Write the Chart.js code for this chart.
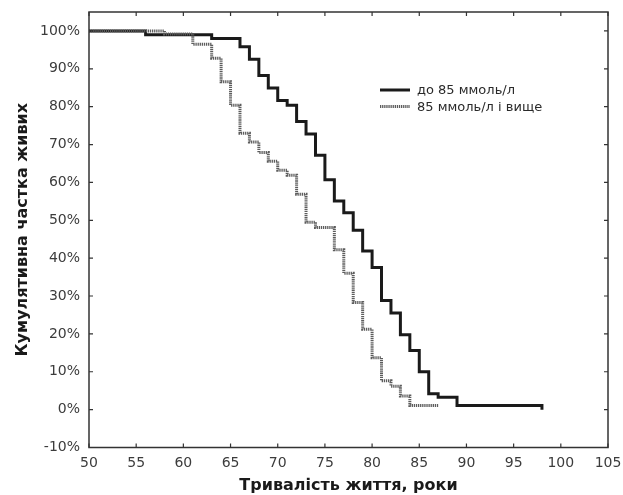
<!DOCTYPE html>
<html>
<head>
<meta charset="utf-8">
<script src="https://cdn.jsdelivr.net/npm/chart.js@4.4.0/dist/chart.umd.min.js"></script>
<style>
  html, body { margin: 0; padding: 0; background: #fff; }
  #chart { display: block; }
</style>
</head>
<body>
<canvas id="chart" width="623" height="495"></canvas>
<script>
// valores (idade em anos, % de vivos)
const lowAges = [50, 56, 63, 66, 67, 68, 69, 70, 71, 72, 73, 74, 75, 76, 77, 78, 79, 80, 81, 82, 83, 84, 85, 86, 87, 89, 98];
const lowSurv = [100, 99, 98, 95.8, 92.5, 88.2, 84.9, 81.6, 80.4, 76.1, 72.8, 67.2, 60.7, 55.1, 52, 47.4, 41.9, 37.5, 28.8, 25.5, 19.8, 15.6, 10, 4.2, 3.3, 1.1, 0];

const highAges = [50, 58, 61, 63, 64, 65, 66, 67, 68, 69, 70, 71, 72, 73, 74, 76, 77, 78, 79, 80, 81, 82, 83, 84, 87];
const highSurv = [100, 99.2, 96.5, 92.8, 86.6, 80.4, 73, 70.7, 67.9, 65.6, 63.2, 61.9, 56.9, 49.5, 48.1, 42.2, 36, 28.3, 21.2, 13.7, 7.6, 6.2, 3.6, 1.1, 1.1];

const seriesNames = ['до 85 ммоль/л', '85 ммоль/л і вище'];
const xTicks = [50, 55, 60, 65, 70, 75, 80, 85, 90, 95, 100, 105];
const yTicks = [-10, 0, 10, 20, 30, 40, 50, 60, 70, 80, 90, 100];

const FONT = '"DejaVu Sans", Arial, sans-serif';
const lowColor = '#1a1a1a';
const highColor = '#5c5c5c';

function toPoints(xs, ys) {
    return xs.map((x, i) => ({ x: x, y: ys[i] }));
}

// moldura com marcas para dentro nos quatro lados
const framePlugin = {
    id: 'frame',
    afterDraw(chart) {
        const ctx = chart.ctx;
        const a = chart.chartArea;
        const xs = chart.scales.x;
        const ys = chart.scales.y;
        const len = 4;
        ctx.save();
        ctx.strokeStyle = '#333';
        ctx.lineWidth = 1.5;
        ctx.strokeRect(a.left, a.top, a.right - a.left, a.bottom - a.top);
        ctx.lineWidth = 1.2;
        ctx.beginPath();
        xTicks.forEach(v => {
            const px = xs.getPixelForValue(v);
            ctx.moveTo(px, a.bottom); ctx.lineTo(px, a.bottom - len);
            ctx.moveTo(px, a.top); ctx.lineTo(px, a.top + len);
        });
        yTicks.forEach(v => {
            const py = ys.getPixelForValue(v);
            ctx.moveTo(a.left, py); ctx.lineTo(a.left + len, py);
            ctx.moveTo(a.right, py); ctx.lineTo(a.right - len, py);
        });
        ctx.stroke();
        ctx.restore();
    }
};

// legenda dentro da área do gráfico
const legendPlugin = {
    id: 'innerLegend',
    afterDatasetsDraw(chart) {
        const ctx = chart.ctx;
        const a = chart.chartArea;
        const x0 = a.left + 291;
        const y0 = a.top + 78;
        const rowH = 16.5;
        ctx.save();
        ctx.font = '13px ' + FONT;
        ctx.textBaseline = 'middle';
        ctx.fillStyle = '#2a2a2a';
        chart.data.datasets.forEach((ds, i) => {
            const y = y0 + i * rowH;
            ctx.strokeStyle = ds.borderColor;
            ctx.lineWidth = ds.borderWidth;
            ctx.setLineDash(ds.borderDash || []);
            ctx.beginPath();
            ctx.moveTo(x0, y);
            ctx.lineTo(x0 + 30, y);
            ctx.stroke();
            ctx.setLineDash([]);
            ctx.fillText(ds.label, x0 + 37, y + 1);
        });
        ctx.restore();
    }
};

new Chart(document.getElementById('chart'), {
    type: 'line',
    data: {
        datasets: [
            {
                label: seriesNames[0],
                data: toPoints(lowAges, lowSurv),
                borderColor: lowColor,
                borderWidth: 3,
                stepped: true,
                pointRadius: 0,
                fill: false,
                order: 2
            },
            {
                label: seriesNames[1],
                data: toPoints(highAges, highSurv),
                borderColor: highColor,
                borderWidth: 3,
                borderDash: [1.3, 0.8],
                stepped: true,
                pointRadius: 0,
                fill: false,
                order: 1
            }
        ]
    },
    options: {
        responsive: false,
        animation: false,
        layout: { padding: { top: 12, right: 15, left: 0, bottom: 0 } },
        plugins: {
            legend: { display: false },
            tooltip: { enabled: false }
        },
        scales: {
            x: {
                type: 'linear',
                min: 50,
                max: 105,
                afterBuildTicks(scale) { scale.ticks = xTicks.map(v => ({ value: v })); },
                afterFit(scale) {
                    scale.height = 47.5;
                    scale.paddingLeft = 0;
                    scale.paddingRight = 0;
                },
                grid: { display: false, drawTicks: false },
                border: { display: false },
                ticks: {
                    padding: 7,
                    color: '#3c3c3c',
                    font: { family: FONT, size: 14 },
                    maxRotation: 0
                },
                title: {
                    display: true,
                    text: 'Тривалість життя, роки',
                    color: '#1a1a1a',
                    font: { family: FONT, size: 16, weight: 'bold' },
                    padding: { top: 0, bottom: 0 }
                }
            },
            y: {
                type: 'linear',
                min: -10,
                max: 105,
                afterBuildTicks(scale) { scale.ticks = yTicks.map(v => ({ value: v })); },
                afterFit(scale) {
                    scale.width = 89;
                    scale.paddingTop = 0;
                    scale.paddingBottom = 0;
                },
                grid: { display: false, drawTicks: false },
                border: { display: false },
                ticks: {
                    padding: 9,
                    color: '#3c3c3c',
                    font: { family: FONT, size: 14 },
                    callback: v => v + '%'
                },
                title: {
                    display: true,
                    text: 'Кумулятивна частка живих',
                    color: '#1a1a1a',
                    font: { family: FONT, size: 16, weight: 'bold' },
                    padding: { top: 13, bottom: 0 }
                }
            }
        }
    },
    plugins: [framePlugin, legendPlugin]
});
</script>
</body>
</html>
